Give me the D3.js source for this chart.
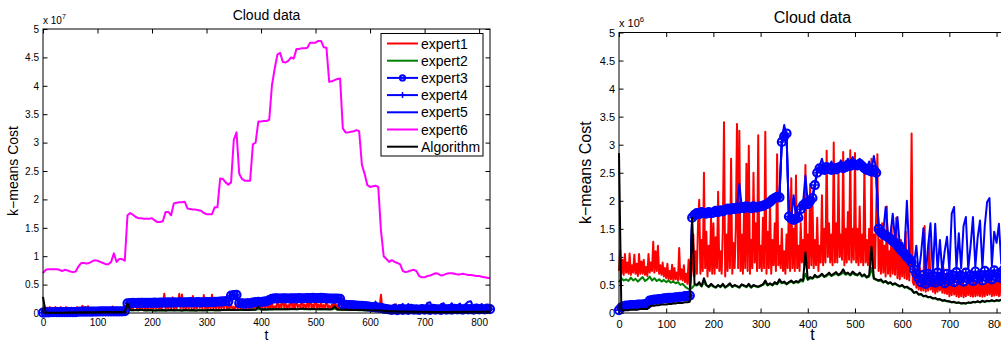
<!DOCTYPE html>
<html><head><meta charset="utf-8">
<script src="https://cdn.jsdelivr.net/npm/d3@7"></script>
<style>
body{margin:0;background:#fff}
svg{display:block}
text{font-family:"Liberation Sans",Arial,Helvetica,sans-serif;fill:#000}
</style>
</head><body>
<svg id="c" width="1001" height="343"></svg>
<script>
// time index grids
const t = d3.range(0, 821, 5);
const tFine = d3.range(0, 821, 2.5);
const xTicks = [0,100,200,300,400,500,600,700,800];
const yTickLabels = [0,0.5,1,1.5,2,2.5,3,3.5,4,4.5,5];
const seriesNames = ["expert1","expert2","expert3","expert4","expert5","expert6","Algorithm"];

// all values in units of 10^6; expert1 on the fine grid (step 2.5)
const expert1 = [
0.75,1.12,0.70,0.95,0.68,1.05,0.72,0.90,0.70,1.06,0.68,0.85,0.72,1.04,0.70,0.88,0.66,1.05,0.70,0.92,
0.70,0.95,0.68,0.82,0.66,1.05,0.72,0.90,0.75,1.27,0.72,1.10,0.75,1.20,0.70,0.85,0.68,0.90,0.65,0.80,
0.62,0.88,0.60,0.75,0.60,0.86,0.58,0.80,0.60,0.72,0.58,1.16,0.60,0.78,0.58,0.85,0.55,0.70,0.52,0.95,
0.48,0.62,0.80,1.40,0.65,1.10,0.70,1.60,2.02,0.70,1.30,0.75,2.50,0.80,1.45,0.65,1.20,0.75,1.70,0.70,
1.60,0.70,1.35,0.80,2.16,0.75,1.10,0.70,1.50,3.40,0.65,1.40,0.75,1.90,0.80,2.75,0.70,1.25,0.80,1.50,
3.37,0.80,3.25,0.75,1.40,0.70,1.85,0.80,2.66,0.75,2.98,0.70,1.30,0.80,2.50,0.90,1.60,0.75,3.17,0.80,
1.20,0.75,1.70,0.80,3.23,0.70,1.45,0.80,2.00,0.70,1.30,0.85,1.60,0.75,2.83,0.85,1.20,0.80,1.50,0.75,
1.10,0.70,1.40,0.80,2.00,0.75,2.40,0.80,1.50,0.75,2.45,0.80,1.20,0.75,1.60,0.90,1.30,0.85,2.64,0.80,
1.40,0.80,2.30,0.85,2.00,0.80,1.30,0.85,1.70,0.75,1.20,0.90,2.10,0.85,1.50,0.90,2.89,1.00,1.60,0.90,
1.40,0.85,3.04,0.90,1.60,0.90,2.50,1.00,1.40,0.95,2.87,0.85,1.50,0.90,1.80,0.95,2.90,0.90,1.50,0.95,
2.85,0.90,1.50,0.85,1.90,0.90,1.40,0.85,2.64,0.90,1.30,0.85,1.50,0.80,2.75,0.85,1.40,0.80,1.80,2.83,
0.75,1.30,0.70,1.60,0.72,1.20,0.65,1.90,0.70,1.10,0.65,1.55,0.70,1.25,0.68,1.70,0.62,1.15,0.60,1.30,
0.65,1.10,0.62,1.45,0.60,1.05,0.58,1.00,3.20,0.55,0.50,0.85,0.45,0.70,0.42,0.80,0.40,0.65,0.40,1.55,
0.38,0.70,0.40,1.30,0.42,0.60,0.38,0.70,0.35,0.55,0.38,0.65,0.40,0.75,0.36,0.80,0.35,0.60,0.34,0.62,
0.30,0.55,0.32,0.70,0.33,0.50,0.30,0.60,0.28,0.55,0.30,0.72,0.28,0.50,0.30,0.58,0.32,0.60,0.30,0.52,
0.29,0.65,0.30,0.55,0.31,0.60,0.30,0.68,0.29,0.52,0.30,0.60,0.32,0.57,0.33,0.62,0.30,0.55,0.31,0.58,
0.32,0.57,0.30,0.66,0.31,0.55,0.32,0.60,0.31];

const expert2 = [
0.55,0.62,0.58,0.60,0.57,0.63,0.58,0.61,0.56,0.60,
0.64,0.57,0.60,0.65,0.58,0.62,0.57,0.60,0.56,0.59,
0.55,0.58,0.54,0.56,0.53,0.55,0.50,0.52,0.47,0.44,
0.42,0.45,0.50,0.49,0.52,0.47,0.55,0.49,0.46,0.50,
0.47,0.45,0.49,0.46,0.50,0.45,0.48,0.51,0.46,0.49,
0.47,0.45,0.50,0.48,0.46,0.50,0.45,0.49,0.47,0.46,
0.48,0.50,0.54,0.49,0.52,0.49,0.53,0.51,0.56,0.53,
0.54,0.51,0.54,0.56,0.53,0.55,0.54,0.57,0.56,0.70,
0.59,0.62,0.61,0.65,0.63,0.65,0.68,0.64,0.66,0.69,
0.66,0.68,0.70,0.67,0.69,0.72,0.68,0.70,0.67,0.71,
0.68,0.67,0.70,0.65,0.67,0.63,0.65,0.80,0.61,0.59,
0.57,0.58,0.54,0.56,0.52,0.54,0.50,0.52,0.49,0.47,
0.49,0.45,0.46,0.43,0.41,0.36,0.37,0.33,0.33,0.30,
0.30,0.28,0.28,0.26,0.26,0.24,0.24,0.22,0.22,0.21,
0.20,0.19,0.19,0.18,0.18,0.17,0.17,0.17,0.18,0.18,
0.19,0.19,0.20,0.19,0.21,0.20,0.21,0.21,0.22,0.21,
0.22,0.22,0.23,0.23,0.23];

const expert3 = [
0.05,0.10,0.12,0.13,0.13,0.14,0.14,0.14,0.15,0.15,
0.15,0.16,0.16,0.22,0.23,0.24,0.24,0.25,0.25,0.26,
0.26,0.27,0.27,0.27,0.28,0.28,0.29,0.29,0.30,0.30,
0.31,1.70,1.75,1.78,1.76,1.80,1.78,1.77,1.80,1.78,
1.79,1.82,1.80,1.83,1.81,1.84,1.86,1.84,1.87,1.85,
1.88,1.86,1.89,1.87,1.90,1.88,1.87,1.90,1.88,1.89,
1.90,1.91,1.93,1.95,1.98,2.02,2.05,2.07,2.06,3.05,
3.15,3.20,1.72,1.68,1.66,1.68,1.70,1.85,1.92,1.96,
1.94,2.00,2.05,2.28,2.50,2.58,2.57,2.55,2.60,2.57,
2.55,2.58,2.56,2.59,2.61,2.58,2.60,2.64,2.62,2.66,
2.64,2.63,2.66,2.62,2.58,2.55,2.54,2.52,2.55,2.50,
1.50,1.44,1.40,1.38,1.35,1.32,1.28,1.25,1.20,1.15,
1.10,1.06,1.00,0.96,0.90,0.78,0.70,0.62,0.55,0.68,
0.52,0.70,0.56,0.66,0.54,0.72,0.57,0.64,0.53,0.70,
0.58,0.68,0.55,0.73,0.60,0.66,0.56,0.72,0.61,0.67,
0.57,0.74,0.62,0.68,0.58,0.75,0.63,0.69,0.60,0.76,
0.64,0.70,0.62,0.77,0.68];

// expert4 coincides with expert3 in the picture
const expert4 = expert3;

const expert5 = [
0.05,0.11,0.12,0.13,0.14,0.14,0.14,0.15,0.15,0.15,
0.16,0.16,0.16,0.23,0.23,0.24,0.25,0.25,0.26,0.26,
0.27,0.27,0.27,0.28,0.28,0.29,0.29,0.30,0.30,0.31,
0.31,1.72,1.76,1.80,1.77,1.82,1.79,1.78,1.83,1.79,
1.80,1.84,1.81,1.85,1.82,1.86,1.88,1.85,1.89,1.86,
1.90,2.30,1.90,1.88,1.92,1.89,1.88,1.92,1.89,1.90,
1.92,1.93,1.95,1.97,2.00,2.04,2.07,2.10,2.15,3.10,
3.35,3.15,1.75,1.70,2.10,1.70,1.72,1.88,1.95,2.45,
1.96,2.02,2.08,2.30,2.55,2.62,2.75,2.58,2.65,2.60,
2.70,2.60,2.66,2.62,2.72,2.62,2.66,2.75,2.65,2.78,
2.68,2.66,2.75,2.64,2.62,2.58,2.70,2.55,2.80,2.55,
1.55,1.48,1.45,1.89,1.40,1.38,1.77,1.30,1.71,1.20,
1.25,1.12,2.00,1.05,0.95,0.85,1.20,0.70,1.05,1.51,
0.68,1.20,1.60,0.70,1.59,0.75,1.30,0.72,1.10,1.36,
0.75,1.77,1.89,0.78,1.42,0.80,1.55,1.71,0.78,1.20,
1.71,0.82,1.35,1.65,0.80,1.55,1.98,2.05,0.85,1.45,
1.25,1.59,0.88,1.40,1.10];

const expert6 = [
7.0,7.6,7.7,7.7,7.7,7.7,7.6,7.4,7.6,7.5,
7.3,7.2,7.3,8.2,8.8,8.8,8.7,8.8,9.1,9.3,
9.2,9.0,8.8,8.6,8.6,9.0,10.5,9.0,9.5,9.5,
9.2,17.2,17.6,17.3,16.9,16.7,16.7,16.6,16.6,16.6,
16.7,16.3,16.0,16.0,16.2,17.8,17.8,17.2,19.3,19.4,
19.5,19.5,19.6,18.4,18.3,18.2,18.2,18.1,18.0,17.6,
17.4,17.4,17.4,18.6,18.6,23.7,23.6,23.0,22.6,23.0,
30.5,31.8,24.5,23.6,23.3,23.3,23.3,29.7,30.0,33.7,
33.7,33.8,33.8,34.0,40.1,43.0,45.5,45.8,44.2,44.1,
44.4,45.0,44.8,46.5,46.5,46.6,46.6,46.7,47.6,47.6,
47.6,47.9,47.9,46.8,46.7,40.7,40.8,41.0,41.2,41.3,
32.5,31.8,31.8,31.9,32.0,32.2,32.0,26.1,24.5,22.5,
22.2,22.3,22.4,22.2,14.5,10.0,9.5,9.0,9.3,9.0,
8.8,8.6,7.4,7.2,7.3,7.5,7.6,7.4,6.5,6.3,
6.3,6.5,6.6,6.8,7.0,6.9,6.6,6.7,6.9,7.0,
7.0,6.9,6.8,6.8,6.9,6.8,6.7,6.7,6.6,6.5,
6.5,6.4,6.3,6.2,6.1];

const algorithm = [
2.85,0.05,0.05,0.05,0.05,0.06,0.06,0.06,0.06,0.07,
0.07,0.07,0.07,0.12,0.13,0.13,0.14,0.14,0.15,0.15,
0.15,0.16,0.16,0.17,0.17,0.18,0.18,0.18,0.19,0.19,
0.20,1.70,0.52,0.50,0.55,0.48,0.62,0.50,0.47,0.52,
0.48,0.46,0.50,0.47,0.52,0.46,0.49,0.53,0.47,0.50,
0.48,0.46,0.51,0.49,0.47,0.52,0.46,0.50,0.48,0.47,
0.49,0.51,0.58,0.50,0.53,0.50,0.55,0.52,0.60,0.54,
0.56,0.52,0.55,0.58,0.54,0.57,0.55,0.60,0.58,1.08,
0.60,0.64,0.62,0.68,0.64,0.66,0.70,0.65,0.68,0.72,
0.67,0.70,0.73,0.68,0.71,0.78,0.70,0.72,0.68,0.74,
0.70,0.68,0.72,0.66,0.69,0.64,0.67,1.18,0.62,0.60,
0.58,0.60,0.55,0.57,0.53,0.55,0.51,0.53,0.50,0.48,
0.50,0.46,0.47,0.44,0.42,0.36,0.38,0.33,0.34,0.30,
0.31,0.28,0.29,0.26,0.27,0.24,0.25,0.22,0.23,0.21,
0.21,0.19,0.20,0.18,0.19,0.17,0.18,0.17,0.19,0.18,
0.20,0.19,0.21,0.19,0.22,0.20,0.22,0.21,0.23,0.21,
0.23,0.22,0.24,0.23,0.24];

const series = [
  {name:"expert1", data:expert1, tt:tFine, color:"#ff0000"},
  {name:"expert2", data:expert2, tt:t, color:"#008000"},
  {name:"expert3", data:expert3, tt:t, color:"#0000ff", marker:"o"},
  {name:"expert4", data:expert4, tt:t, color:"#0000ff", marker:"+"},
  {name:"expert5", data:expert5, tt:t, color:"#0000ff"},
  {name:"expert6", data:expert6, tt:t, color:"#ff00ff"},
  {name:"Algorithm", data:algorithm, tt:t, color:"#000000"}
];

const svg = d3.select("#c");
const FONT = '"Liberation Sans",Arial,Helvetica,sans-serif';

const panels = [
  {L:43, R:490, T:29, B:313, unit:10, exp:"7", tickFs:10, labFs:14, titleY:20, xtY:325.5, tY:340, ylX:13, expY:24, legend:true},
  {L:619, R:1006, T:32.5, B:313, unit:1, exp:"6", tickFs:11, labFs:16, titleY:22.5, xtY:328, tY:340, ylX:585, expY:27, legend:false}
];

panels.forEach((p, pi) => {
  const x = d3.scaleLinear().domain([0, 820]).range([p.L, p.R]);
  const y = d3.scaleLinear().domain([0, 5 * p.unit]).range([p.B, p.T]);
  const g = svg.append("g");
  const clipId = "clip" + pi;
  svg.append("clipPath").attr("id", clipId).append("rect")
    .attr("x", p.L - 6).attr("y", p.T).attr("width", p.R - p.L + 12).attr("height", p.B - p.T + 6);

  const tl = 4.5;
  const yVals = yTickLabels.map(v => v * p.unit);
  const ax = [
    d3.axisLeft(y).tickValues(yVals).tickFormat((d,i) => String(yTickLabels[i])),
    d3.axisRight(y).tickValues(yVals).tickFormat(""),
    d3.axisBottom(x).tickValues(xTicks).tickFormat(d => String(d)),
    d3.axisTop(x).tickValues(xTicks).tickFormat("")
  ];
  const pos = [[p.L,0],[p.R,0],[0,p.B],[0,p.T]];
  const axG = [];
  ax.forEach((a, k) => {
    a.tickSizeInner(-tl).tickSizeOuter(0).tickPadding(k === 0 ? 4 : 7);
    const ag = g.append("g").attr("transform", `translate(${pos[k][0]},${pos[k][1]})`).call(a);
    ag.select(".domain").remove();
    ag.selectAll(".tick line").attr("stroke", "#000").attr("stroke-width", 1);
    ag.selectAll("text").attr("font-size", p.tickFs).attr("fill", "#000").attr("font-family", FONT);
    axG.push(ag);
  });
  axG[2].selectAll(".tick text").attr("dy", null).attr("y", p.xtY - p.B);

  const plot = g.append("g").attr("clip-path", `url(#${clipId})`);

  series.forEach(s => {
    const line = d3.line().x((d, i) => x(s.tt[i])).y(d => y(d));
    plot.append("path").datum(s.data)
      .attr("fill", "none").attr("stroke", s.color)
      .attr("stroke-width", 2).attr("stroke-linejoin", "round")
      .attr("d", line);
    if (s.marker === "o") {
      plot.append("g").selectAll("circle").data(s.data).join("circle")
        .attr("cx", (d, i) => x(s.tt[i])).attr("cy", d => y(d)).attr("r", 4)
        .attr("fill", "none").attr("stroke", s.color).attr("stroke-width", 2.2);
    } else if (s.marker === "+") {
      plot.append("g").selectAll("path").data(s.data).join("path")
        .attr("d", (d, i) => {
          const cx = x(s.tt[i]), cy = y(d);
          return `M${cx-3},${cy}H${cx+3}M${cx},${cy-3}V${cy+3}`;
        })
        .attr("stroke", s.color).attr("stroke-width", 1.5);
    }
  });

  g.append("rect").attr("x", p.L).attr("y", p.T).attr("width", p.R - p.L).attr("height", p.B - p.T)
    .attr("fill", "none").attr("stroke", "#000").attr("stroke-width", 1);

  const cx = (p.L + p.R) / 2;
  g.append("text").attr("x", cx).attr("y", p.titleY).attr("text-anchor", "middle")
    .attr("font-size", p.labFs).text("Cloud data");
  g.append("text").attr("x", cx).attr("y", p.tY).attr("text-anchor", "middle")
    .attr("font-size", p.labFs).text("t");
  g.append("text").attr("transform", `translate(${p.ylX},${(p.T + p.B) / 2}) rotate(-90)`)
    .attr("text-anchor", "middle").attr("dominant-baseline", "central")
    .attr("font-size", p.labFs).text("k\u2212means Cost");
  const ex = g.append("text").attr("x", p.L).attr("y", p.expY).attr("font-size", p.tickFs);
  ex.append("tspan").text("x 10");
  ex.append("tspan").attr("dy", -5).attr("font-size", p.tickFs * 0.7).text(p.exp);

  if (p.legend) {
    const lx = 381, ly = 33.5, lw = 102, lh = 122.5;
    const lg = g.append("g");
    lg.append("rect").attr("x", lx).attr("y", ly).attr("width", lw).attr("height", lh)
      .attr("fill", "#fff").attr("stroke", "#000").attr("stroke-width", 1);
    series.forEach((s, i) => {
      const yy = 43.5 + i * 17.2;
      lg.append("line").attr("x1", 387).attr("x2", 418).attr("y1", yy).attr("y2", yy)
        .attr("stroke", s.color).attr("stroke-width", 2);
      if (s.marker === "o") {
        lg.append("circle").attr("cx", 402.5).attr("cy", yy).attr("r", 2.6)
          .attr("fill", "none").attr("stroke", s.color).attr("stroke-width", 2);
      } else if (s.marker === "+") {
        lg.append("path").attr("d", `M399.5,${yy}H405.5M402.5,${yy-3}V${yy+3}`)
          .attr("stroke", s.color).attr("stroke-width", 1.5);
      }
      lg.append("text").attr("x", 421).attr("y", yy).attr("dominant-baseline", "central")
        .attr("font-size", 14).text(seriesNames[i]);
    });
  }
});
</script>
</body></html>
